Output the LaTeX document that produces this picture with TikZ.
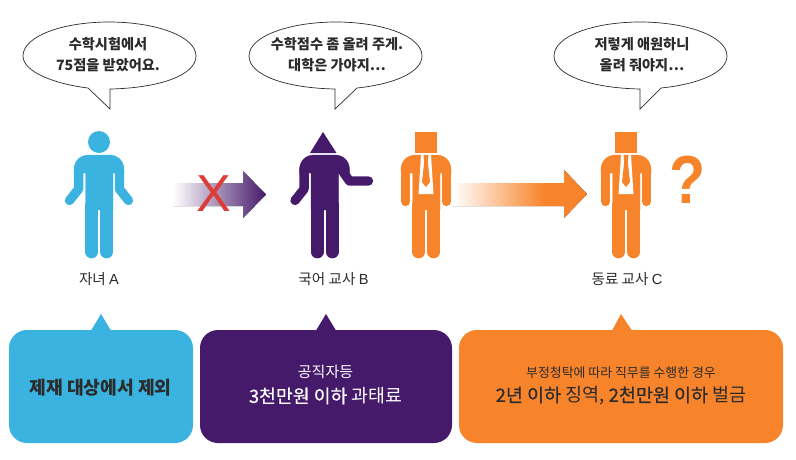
\documentclass[tikz,border=0pt]{standalone}
\usepackage{fontspec}
\usepackage{graphicx}
\setmainfont{Noto Sans CJK KR}
\newfontfamily\latinsans{Liberation Sans}
\newfontfamily\medfont[FakeBold=0.5]{Noto Sans CJK KR}
\definecolor{skyc}{HTML}{3BB3E0}
\definecolor{purp}{HTML}{461A6B}
\definecolor{orng}{HTML}{F7842B}
\definecolor{redx}{HTML}{DD3C37}
\definecolor{inkc}{HTML}{2B2B2B}
\pgfdeclarehorizontalshading{orngfade}{100bp}{color(0bp)=(white); color(25bp)=(white); color(59bp)=(orng); color(100bp)=(orng)}
\tikzset{
  bubble/.style={draw=inkc,line width=0.7pt,fill=white},
  saytext/.style={font=\bfseries\fontsize{14.2}{21}\selectfont,text=inkc,align=center,inner sep=0pt},
  who/.style={font=\fontsize{14.6}{16}\selectfont,text=inkc,inner sep=0pt},
  bigmark/.style={inner sep=0pt,font=\latinsans},
  boxtext/.style={align=center,inner sep=0pt},
  torso/.pic={
    \fill[pic actions] (-25,173) -- (-25,170) .. controls (-25,161) and (-19,155) .. (-10,155) -- (10,155)
       .. controls (19,155) and (25,161) .. (25,170) -- (25,173) -- (14,173) -- (14,210) -- (-13.5,210) -- (-13.5,173) -- cycle;
    \draw[pic actions,line width=12.7pt,line cap=round] (-7.3,205) -- (-7.3,252);
    \draw[pic actions,line width=12.7pt,line cap=round] (7.7,205) -- (7.7,252);
  },
  armline/.style={line width=9.3pt,line cap=round,line join=round},
  pics/suitbody/.style={code={
    \pic[fill=orng,draw=orng] {torso};
    \draw[orng,armline] (-20.4,170) -- (-20.4,201.5);
    \draw[orng,armline] (20.4,170) -- (20.4,201.5);
    \fill[white] (-5,155) -- (5,155) -- (7.5,194) -- (-7.5,194) -- cycle;
    \fill[orng] (-2.5,155) -- (2.5,155) -- (1.8,162) -- (4,182) -- (0,187) -- (-4,182) -- (-1.8,162) -- cycle;
    \fill[orng] (-11,132) rectangle (11,153);
  }}
}
\begin{document}
\begin{tikzpicture}[x=1pt,y=-1pt]
\useasboundingbox (0,0) rectangle (796,459);
% speech bubbles
\draw[bubble] (88,88) -- (110,109) -- (110,89) .. controls (160,88) and (196,75) .. (196,56)
  .. controls (196,36) and (155,22) .. (109,22) .. controls (63,22) and (23,36) .. (23,56)
  .. controls (23,72) and (55,84) .. (88,88) -- cycle;
\draw[bubble] (335,89) -- (335,109) -- (357,88) .. controls (395,84) and (422,72) .. (422,56)
  .. controls (422,36) and (382,22) .. (336,22) .. controls (290,22) and (249,36) .. (249,56)
  .. controls (249,75) and (285,88) .. (335,89) -- cycle;
\draw[bubble] (640,89) -- (640,109) -- (661,88) .. controls (700,84) and (727,72) .. (727,56)
  .. controls (727,36) and (686,22) .. (640,22) .. controls (594,22) and (554,36) .. (554,56)
  .. controls (554,75) and (590,88) .. (640,89) -- cycle;
\node[saytext] (sayA) at (108,54.5) {수학시험에서\\75점을 받았어요.};
\node[saytext] (sayB) at (337,55) {수학점수 좀 올려 주게.\\대학은 가야지⋯};
\node[saytext] (sayC) at (642,55) {저렇게 애원하니\\올려 줘야지⋯};
% child A
\fill[skyc] (99,142) circle (11);
\begin{scope}[shift={(99,0)}]
  \pic[fill=skyc,draw=skyc] {torso};
  \draw[skyc,armline] (-20.4,170) -- (-20.4,189) -- (-29.5,200.5);
  \draw[skyc,armline] (20.4,170) -- (20.4,189) -- (29.5,200.5);
\end{scope}
% teacher B
\fill[purp] (323,132) -- (336.5,153) -- (310,153) -- cycle;
\begin{scope}[shift={(324.5,0)}]
  \pic[fill=purp,draw=purp] {torso};
  \draw[purp,armline] (-20.4,170) -- (-20.4,189) -- (-29.5,200.5);
  \draw[purp,armline] (11,161) -- (25,181) -- (44,181);
\end{scope}
% suited teachers
\begin{scope}[shift={(426,0)}] \pic {suitbody}; \end{scope}
\begin{scope}[shift={(626,0)}] \pic {suitbody}; \end{scope}
% arrows
\fill[left color=white,right color=purp] (173,183) -- (243,183) -- (243,171) -- (266,194.5) -- (243,218) -- (243,206) -- (173,206) -- cycle;
\node[bigmark,text=redx,font=\latinsans\fontsize{52}{52}\selectfont] (nox) at (214,193.5) {X};
\fill[shading=orngfade] (453,183) -- (564,183) -- (564,170) -- (587,194) -- (564,218) -- (564,206) -- (453,206) -- cycle;
\node[bigmark,text=orng,font=\latinsans\bfseries\fontsize{68}{68}\selectfont] (qm) at (688,180) {\scalebox{.87}[1]{?}};
% labels
\node[who] (nameA) at (99,279) {자녀 {\latinsans A}};
\node[who] (nameB) at (333.5,279) {국어 교사 {\latinsans B}};
\node[who] (nameC) at (627,279) {동료 교사 {\latinsans C}};
% result boxes
\fill[skyc,rounded corners=18pt] (9,330) rectangle (193,443);
\fill[skyc] (91,330.5) -- (101,314) -- (111,330.5) -- cycle;
\fill[purp,rounded corners=18pt] (200,330) rectangle (452,443);
\fill[purp] (316,330.5) -- (326,314) -- (336,330.5) -- cycle;
\fill[orng,rounded corners=18pt] (459,330) rectangle (783,443);
\fill[orng] (612,330.5) -- (621,314) -- (632,330.5) -- cycle;
\node[boxtext,text=inkc,font=\bfseries\fontsize{18.2}{20}\selectfont] (resA) at (100.5,388) {제재 대상에서 제외};
\node[boxtext,text=white,font=\fontsize{15}{16}\selectfont] (resB1) at (325.5,372) {공직자등};
\node[boxtext,text=white,font=\fontsize{18.3}{20}\selectfont] (resB2) at (325.5,396) {{\medfont 3천만원 이하} 과태료};
\node[boxtext,text=inkc,font=\fontsize{12.9}{16}\selectfont] (resC1) at (621,373) {부정청탁에 따라 직무를 수행한 경우};
\node[boxtext,text=inkc,font=\fontsize{18.5}{20}\selectfont] (resC2) at (621,396) {{\medfont 2년 이하} 징역, {\medfont 2천만원 이하} 벌금};
\end{tikzpicture}
\end{document}
